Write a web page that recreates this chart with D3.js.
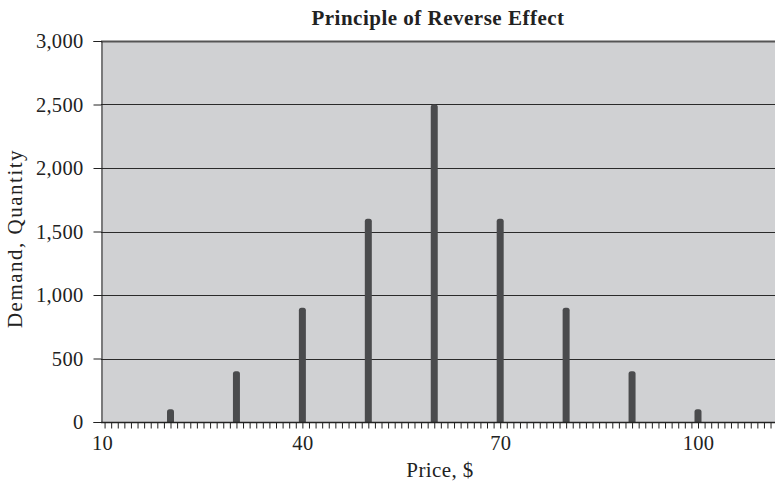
<!DOCTYPE html>
<html>
<head>
<meta charset="utf-8">
<script src="https://cdn.jsdelivr.net/npm/d3@7"></script>
<style>
  html, body { margin: 0; padding: 0; background: #fff; }
  svg { display: block; }
  text { font-family: "Liberation Serif", "DejaVu Serif", serif; fill: #222; }
</style>
</head>
<body>
<svg id="chart" width="775" height="484"></svg>
<script>
// Demand at each price point
const prices = [20, 30, 40, 50, 60, 70, 80, 90, 100];
const demand = [100, 400, 900, 1600, 2500, 1600, 900, 400, 100];
const xTickLabels = [10, 40, 70, 100];
const yTickValues = [0, 500, 1000, 1500, 2000, 2500, 3000];

const title = "Principle of Reverse Effect";
const xTitle = "Price, $";
const yTitle = "Demand, Quantity";

const W = 775, H = 484;
const m = { left: 101, top: 41, bottom: 422 };

const svg = d3.select("#chart");

// price axis starts just left of 10, so the frame begins at m.left
const x = d3.scaleLinear().domain([20, 100]).range([170.5, 698]);
const y = d3.scaleLinear().domain([0, 3000]).range([m.bottom, m.top]);

// plot background
svg.append("rect")
  .attr("x", m.left).attr("y", m.top)
  .attr("width", W - m.left).attr("height", m.bottom - m.top)
  .attr("fill", "#d0d1d3");

// horizontal gridlines
svg.append("g").selectAll("line")
  .data(yTickValues.filter(d => d > 0))
  .join("line")
  .attr("x1", m.left).attr("x2", W)
  .attr("y1", d => Math.round(y(d)) + 0.5).attr("y2", d => Math.round(y(d)) + 0.5)
  .attr("stroke", d => d === 3000 ? "#555" : "#2a2a2a")
  .attr("stroke-width", d => d === 3000 ? 2 : 1);

// bars with rounded tops
const bw = 7;
svg.append("g").selectAll("path")
  .data(prices.map((p, i) => ({ p, v: demand[i] })))
  .join("path")
  .attr("fill", "#4a4b4d")
  .attr("d", d => {
    const cx = x(d.p), top = y(d.v), bot = y(0), r = 2.5;
    const l = cx - bw / 2, rr = cx + bw / 2;
    return `M${l},${bot}L${l},${top + r}Q${l},${top} ${l + r},${top}L${rr - r},${top}Q${rr},${top} ${rr},${top + r}L${rr},${bot}Z`;
  });

// y axis
const yAxis = d3.axisLeft(y)
  .tickValues(yTickValues)
  .tickSize(8)
  .tickPadding(10)
  .tickFormat(d3.format(","));
const gy = svg.append("g")
  .attr("transform", `translate(${m.left + 0.5},0)`)
  .call(yAxis);
gy.select(".domain").attr("stroke", "#222");
gy.selectAll(".tick line").attr("stroke", "#222");
gy.selectAll(".tick text")
  .style("font-family", '"Liberation Serif", serif')
  .style("font-size", "20.5px")
  .style("letter-spacing", "0.3px")
  .attr("fill", "#222");

// x axis: minor ticks every unit, labels every 30
const minor = d3.range(10, 113, 1);
const xAxis = d3.axisBottom(x)
  .tickValues(minor)
  .tickSize(6)
  .tickPadding(7)
  .tickFormat(d => xTickLabels.includes(d) ? d : "");
const gx = svg.append("g")
  .attr("transform", `translate(0,${m.bottom + 0.5})`)
  .call(xAxis);
gx.select(".domain")
  .attr("d", `M${m.left},0H${W}`)
  .attr("stroke", "#222").attr("stroke-width", 1.5);
gx.selectAll(".tick line").attr("stroke", "#222");
gx.selectAll(".tick text")
  .style("font-family", '"Liberation Serif", serif')
  .style("font-size", "20.5px")
  .style("letter-spacing", "0.3px")
  .attr("fill", "#222");
// first label sits at the frame corner
gx.selectAll(".tick").filter(d => d === 10).select("text").attr("dx", -2.5);

// titles
svg.append("text")
  .attr("x", 438).attr("y", 25)
  .attr("text-anchor", "middle")
  .style("font-size", "21px").style("font-weight", "bold")
  .style("letter-spacing", "0.5px")
  .text(title);

svg.append("text")
  .attr("x", 440).attr("y", 477)
  .attr("text-anchor", "middle")
  .style("font-size", "21px")
  .style("letter-spacing", "0.4px")
  .text(xTitle);

svg.append("text")
  .attr("transform", `translate(22,${(m.top + m.bottom) / 2 + 7}) rotate(-90)`)
  .attr("text-anchor", "middle")
  .style("font-size", "21px")
  .style("letter-spacing", "1.5px")
  .text(yTitle);
</script>
</body>
</html>
